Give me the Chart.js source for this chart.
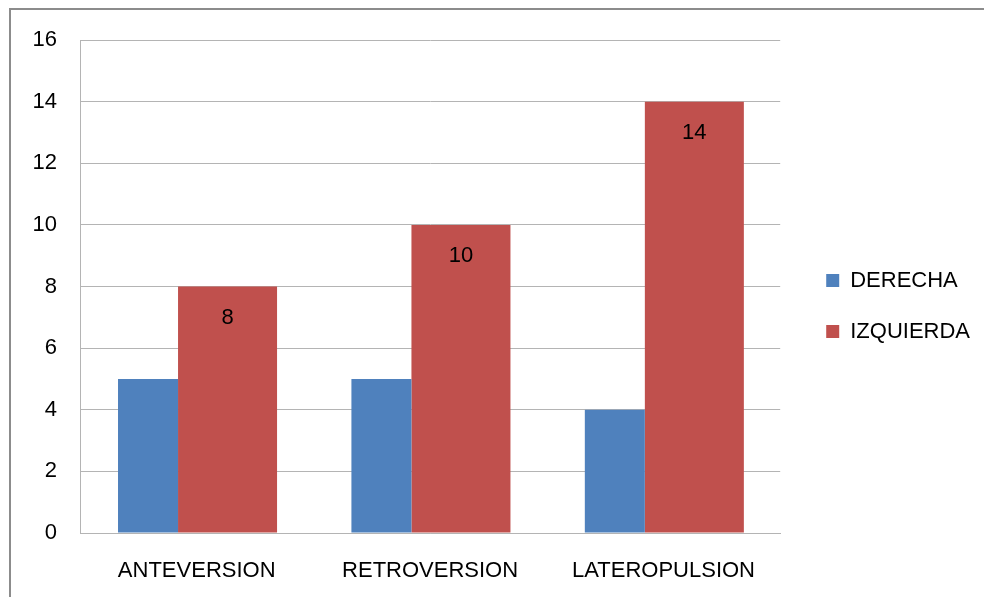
<!DOCTYPE html>
<html>
<head>
<meta charset="utf-8">
<script src="https://cdn.jsdelivr.net/npm/chart.js@4.4.1/dist/chart.umd.min.js"></script>
<style>
  html, body { margin: 0; padding: 0; background: #fff; }
  #wrap { position: relative; width: 984px; height: 597px; overflow: hidden; }
  #frame { position: absolute; left: 9px; top: 8px; width: 1200px; height: 800px;
           border-left: 2px solid #8c8c8c; border-top: 2px solid #8c8c8c; pointer-events: none; }
  canvas { position: absolute; left: 0; top: 0; }
</style>
</head>
<body>
<div id="wrap">
  <div id="frame"></div>
  <canvas id="chart" width="984" height="597"></canvas>
</div>
<script>
// Categories and series
const categories = ['ANTEVERSION', 'RETROVERSION', 'LATEROPULSION'];
const derecha = [5, 5, 4];
const izquierda = [8, 10, 14];
const yTicks = [0, 2, 4, 6, 8, 10, 12, 14, 16];

const FONT = "'Liberation Sans', Arial, sans-serif";
const GRID = '#b4b4b4';

// Value labels drawn inside the top of the IZQUIERDA bars
const valueLabels = {
  id: 'valueLabels',
  afterDatasetsDraw(chart) {
    const ctx = chart.ctx;
    const meta = chart.getDatasetMeta(1);
    ctx.save();
    ctx.font = '22px ' + FONT;
    ctx.fillStyle = '#000';
    ctx.textAlign = 'center';
    ctx.textBaseline = 'middle';
    meta.data.forEach((bar, i) => {
      ctx.fillText(String(izquierda[i]), bar.x, bar.y + 31);
    });
    ctx.restore();
  }
};

// Empty spacer axes used only to reserve room around the plot
const spacer = (size) => ({
  type: 'linear',
  display: true,
  grid: { display: false, drawTicks: false },
  border: { display: false },
  ticks: { display: false },
  afterFit(scale) {
    if (scale.isHorizontal()) scale.height = size; else scale.width = size;
  }
});

new Chart(document.getElementById('chart'), {
  type: 'bar',
  data: {
    labels: categories,
    datasets: [
      {
        label: 'DERECHA',
        data: derecha,
        backgroundColor: '#4F81BD',
        categoryPercentage: 0.8343,
        barPercentage: 0.6164
      },
      {
        label: 'IZQUIERDA',
        data: izquierda,
        backgroundColor: '#C0504D',
        categoryPercentage: 0.5286,
        barPercentage: 1.605
      }
    ]
  },
  options: {
    responsive: false,
    animation: false,
    layout: { padding: { left: 0, top: 15, right: 4, bottom: 0 } },
    plugins: {
      tooltip: { enabled: false },
      legend: {
        position: 'right',
        align: 'center',
        maxWidth: 200,
        labels: {
          boxWidth: 13,
          boxHeight: 13,
          padding: 29,
          color: '#000',
          font: { family: FONT, size: 22 }
        }
      }
    },
    scales: {
      x: {
        grid: { display: false, drawTicks: false },
        border: { display: true, color: GRID, width: 1 },
        ticks: { color: '#000', padding: 25, font: { family: FONT, size: 22 }, maxRotation: 0 },
        afterFit(scale) { scale.height = 64; }
      },
      y: {
        min: 0,
        max: 16,
        afterBuildTicks(scale) { scale.ticks = yTicks.map(v => ({ value: v })); },
        grid: { color: GRID, drawTicks: false },
        border: { display: true, color: GRID, width: 1 },
        ticks: { color: '#000', padding: 23, font: { family: FONT, size: 22 } },
        afterFit(scale) { scale.width = 80; }
      },
      gapRight: Object.assign(spacer(17), { position: 'right' }),
      gapTop: Object.assign(spacer(25), { position: 'top' })
    }
  },
  plugins: [valueLabels]
});
</script>
</body>
</html>
